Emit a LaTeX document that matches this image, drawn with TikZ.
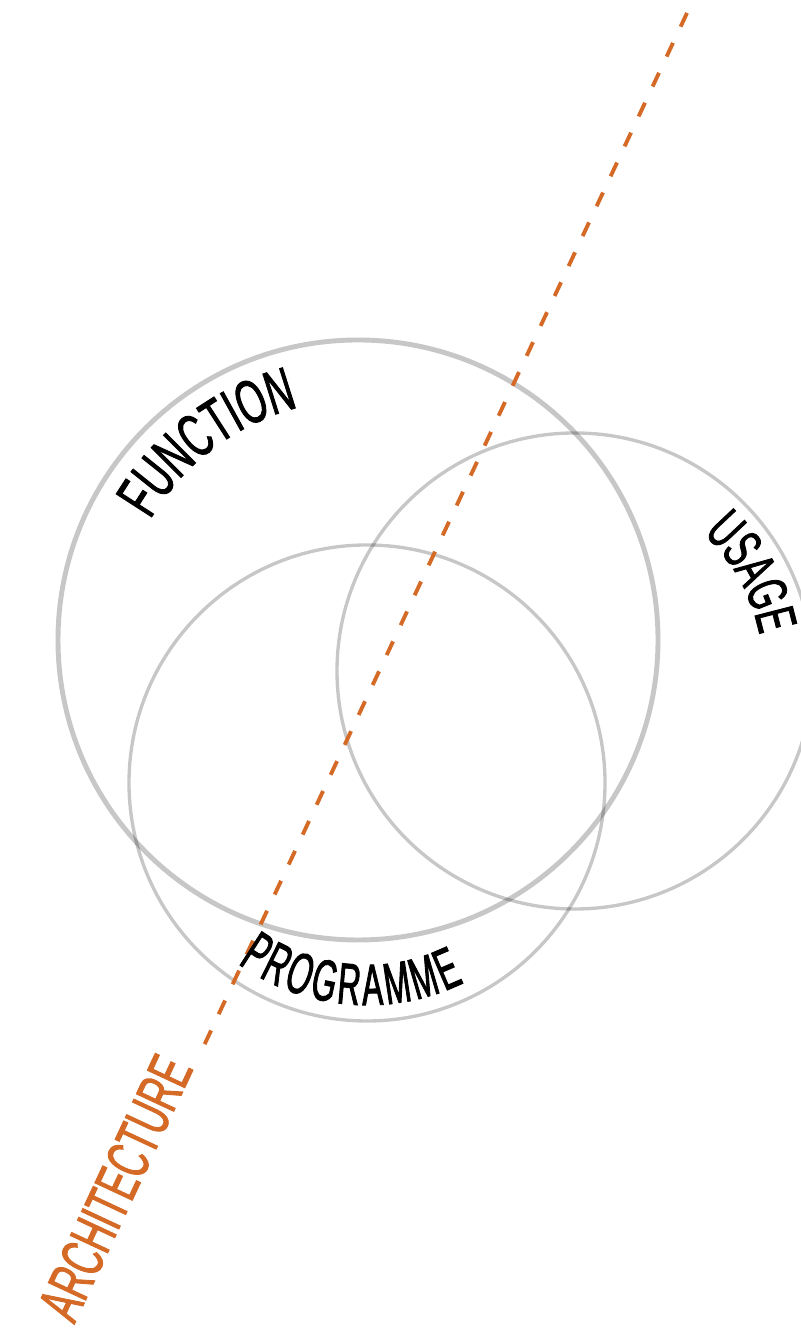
\documentclass[tikz,border=0pt]{standalone}
\usepackage{fontspec}
\usepackage{xcolor}
\usepackage{tikz}
\usetikzlibrary{decorations}
\usetikzlibrary{decorations.text}
\usetikzlibrary{shapes}

\newfontfamily\narrowsans[FakeStretch=0.6, FakeBold=1.5]{Liberation Sans}
\newfontfamily\narrowersans[FakeStretch=0.54, FakeBold=1.5]{Liberation Sans}
\definecolor{archorange}{RGB}{212,106,38}

\begin{document}
\begin{tikzpicture}[
  ring/.style={circle, draw=black, draw opacity=.22, inner sep=0pt},
  archline/.style={draw=archorange, line width=1.1pt, dash pattern=on 4.3pt off 5.1pt},
  ]
 \useasboundingbox (0,0) rectangle (8,13.29);

 \node [ring, line width=1.4pt, minimum size=6cm] (function) at (3.58, 6.89) {};
 \node [ring, line width=.95pt, minimum size=4.76cm] (usage) at (5.75, 6.58) {};
 \node [ring, line width=.95pt, minimum size=4.76cm] (programme) at (3.67, 5.46) {};

 \coordinate (linetop) at (6.87, 13.16);
 \coordinate (linebottom) at (2.01, 2.77);
 \draw [archline] (linetop) -- (linebottom);

 \path [decorate, decoration={text along path, text align=center,
   text={|\narrowsans\fontsize{17.5}{20}\selectfont|FUNCTION}}]
   ([shift={(172.15:2.40)}]function.center) arc [start angle=172.15, end angle=82.15, radius=2.40];
 \path [decorate, decoration={text along path, text align=center,
   text={|\narrowsans\fontsize{16}{18}\selectfont|USAGE}}]
   ([shift={(64:1.88)}]usage.center) arc [start angle=64, end angle=-6, radius=1.88];
 \path [decorate, decoration={text effects along path, text={PROGRAMME}, text align=center,
   text effects/.cd, text along path,
   characters={font=\narrowersans\fontsize{16.6}{18}\selectfont, inner xsep=.5pt}}]
   ([shift={(205.2:2.22)}]programme.center) arc [start angle=205.2, end angle=325.2, radius=2.22];

 \node [anchor=base east, rotate=65, inner sep=0pt, text=archorange,
   font=\narrowsans\fontsize{17.1}{20}\selectfont] (architecture) at (1.94, 2.61) {ARCHITECTURE};
\end{tikzpicture}
\end{document}
